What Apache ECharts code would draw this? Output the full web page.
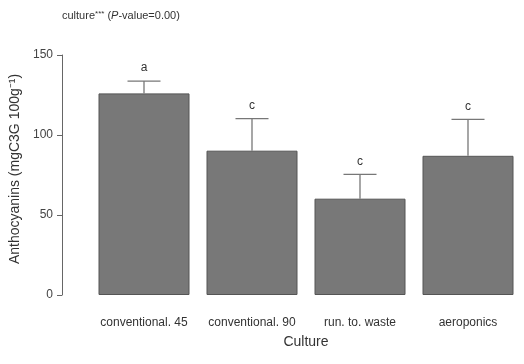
<!DOCTYPE html>
<html><head><meta charset="utf-8">
<script src="https://cdn.jsdelivr.net/npm/echarts@6/dist/echarts.min.js"></script>
<style>html,body{margin:0;padding:0;background:#fff}#c{width:524px;height:364px}</style>
</head><body><div id="c"></div>
<script>
const categories = ['conventional. 45', 'conventional. 90', 'run. to. waste', 'aeroponics'];
const means = [126, 90.2, 60.2, 87];
const upper = [133.7, 110.2, 75.4, 109.8];
const letters = ['a', 'c', 'c', 'c'];
const yTicks = [0, 50, 100, 150];

const chart = echarts.init(document.getElementById('c'));
const font = '"Liberation Sans", Arial, sans-serif';
chart.setOption({
  animation: false,
  backgroundColor: '#fff',
  title: {
    text: 'culture{sup|***} ({it|P}-value=0.00)',
    left: 57, top: 5,
    textStyle: {
      fontFamily: font, fontSize: 11, fontWeight: 'normal', color: '#333',
      rich: {
        sup: { fontSize: 8, verticalAlign: 'top', color: '#333', padding: [0,0,4,0] },
        it: { fontStyle: 'italic', fontSize: 11, color: '#333' }
      }
    }
  },
  grid: { left: 90, right: 2, top: 55, bottom: 69 },
  xAxis: {
    type: 'category', data: categories,
    axisLine: { show: false }, axisTick: { show: false },
    axisLabel: { fontFamily: font, fontSize: 12, color: '#333', margin: 22, interval: 0 },
    name: 'Culture', nameLocation: 'middle', nameGap: 40,
    nameTextStyle: { fontFamily: font, fontSize: 14, color: '#333' }
  },
  yAxis: {
    type: 'value', min: 0, max: 150, interval: 50, offset: 28,
    axisLine: { show: true, lineStyle: { color: '#666' } },
    axisTick: { show: true, length: 5, lineStyle: { color: '#666' } },
    splitLine: { show: false },
    axisLabel: { fontFamily: font, fontSize: 12, color: '#444', margin: 9,
      formatter: v => yTicks.includes(v) ? String(v) : '' },
    name: 'Anthocyanins (mgC3G 100g⁻¹)', nameLocation: 'middle', nameGap: 40,
    nameTextStyle: { fontFamily: font, fontSize: 14, color: '#333', padding: [0, 0, 0, 12] }
  },
  series: [{
    type: 'bar', data: means, barWidth: 91,
    itemStyle: { color: '#787878', borderColor: '#555', borderWidth: 1 }
  }, {
    type: 'custom',
    data: categories.map((c, i) => [i, means[i], upper[i]]),
    renderItem: function (params, api) {
      const base = api.coord([api.value(0), api.value(1)]);
      const top = api.coord([api.value(0), api.value(2)]);
      const half = 16.5;
      return {
        type: 'group',
        children: [
          { type: 'line', shape: { x1: base[0], y1: base[1], x2: top[0], y2: top[1] },
            style: { stroke: '#777', lineWidth: 1.3 } },
          { type: 'line', shape: { x1: top[0] - half, y1: top[1], x2: top[0] + half, y2: top[1] },
            style: { stroke: '#777', lineWidth: 1.3 } },
          { type: 'text', x: top[0], y: top[1] - 7,
            style: { text: letters[params.dataIndex], fill: '#333', fontFamily: font, fontSize: 12,
              align: 'center', verticalAlign: 'bottom' } }
        ]
      };
    },
    z: 3
  }]
});
</script></body></html>
